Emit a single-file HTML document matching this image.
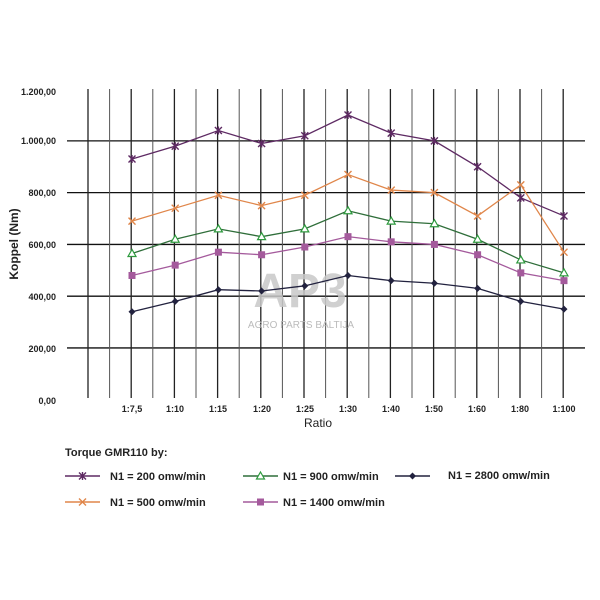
<!DOCTYPE html>
<html><head><meta charset="utf-8"><style>
html,body{margin:0;padding:0;background:#fff;}
svg{display:block;font-family:"Liberation Sans",Arial,sans-serif;}
</style></head><body>
<svg id="s" width="600" height="600" viewBox="0 0 600 600" xmlns="http://www.w3.org/2000/svg">
<rect width="600" height="600" fill="#fff"/>
<g id="grid"></g>
<text x="300" y="307" font-size="48" font-weight="bold" fill="#c8c8c8" text-anchor="middle" opacity="0.85">AP3</text>
<text x="301" y="328" font-size="10" fill="#bbb" text-anchor="middle">AGRO PARTS BALTIJA</text>
<g id="series"></g>
<g font-size="9" font-weight="bold" fill="#222" text-anchor="end">
<text x="56" y="95">1.200,00</text>
<text x="56" y="144">1.000,00</text>
<text x="56" y="196">800,00</text>
<text x="56" y="248">600,00</text>
<text x="56" y="300">400,00</text>
<text x="56" y="352">200,00</text>
<text x="56" y="404">0,00</text>
</g>
<g font-size="9" font-weight="bold" fill="#222" text-anchor="middle">
<text x="132" y="412">1:7,5</text><text x="175" y="412">1:10</text><text x="218" y="412">1:15</text>
<text x="262" y="412">1:20</text><text x="305" y="412">1:25</text><text x="348" y="412">1:30</text>
<text x="391" y="412">1:40</text><text x="434" y="412">1:50</text><text x="477" y="412">1:60</text>
<text x="520" y="412">1:80</text><text x="564" y="412">1:100</text>
</g>
<text x="318" y="427" font-size="12" fill="#222" text-anchor="middle">Ratio</text>
<text transform="translate(18,244) rotate(-90)" font-size="12" font-weight="bold" fill="#222" text-anchor="middle">Koppel (Nm)</text>
<g font-size="11" font-weight="bold" fill="#222">
<text x="65" y="456">Torque GMR110 by:</text>
<text x="110" y="480">N1 = 200 omw/min</text>
<text x="283" y="480">N1 = 900 omw/min</text>
<text x="448" y="479">N1 = 2800 omw/min</text>
<text x="110" y="506">N1 = 500 omw/min</text>
<text x="283" y="506">N1 = 1400 omw/min</text>
</g>
<g id="legend"></g>
</svg>
<script>
var NS="http://www.w3.org/2000/svg";
function el(p,t,a){var e=document.createElementNS(NS,t);for(var k in a)e.setAttribute(k,a[k]);p.appendChild(e);return e;}
var g=document.getElementById('grid');
for(var v=200;v<=1000;v+=200){var y=399.7-v*0.2588;el(g,'line',{x1:67,x2:585,y1:y,y2:y,stroke:'#111','stroke-width':1.3});}
for(var i=0;i<23;i++){var x=88+21.6*i;el(g,'line',{x1:x,x2:x,y1:89,y2:398,stroke:(i%2==0?'#222':'#555'),'stroke-width':(i%2==0?1.3:1)});}
var S=[
{c:'#5e2a63',m:'star',d:[930,980,1040,990,1020,1100,1030,1000,900,780,710]},
{c:'#e0864a',m:'x',d:[690,740,790,750,790,870,810,800,710,830,570]},
{c:'#2f6e3a',m:'tri',d:[565,620,660,630,660,730,690,680,620,540,490]},
{c:'#a45a9c',m:'sq',d:[480,520,570,560,590,630,610,600,560,490,460]},
{c:'#22223f',m:'dia',d:[340,380,425,420,440,480,460,450,430,380,350]}];
function mk(p,m,x,y,c){
 if(m=='star'||m=='x'){el(p,'path',{d:'M'+(x-3.5)+' '+(y-3.5)+'L'+(x+3.5)+' '+(y+3.5)+'M'+(x-3.5)+' '+(y+3.5)+'L'+(x+3.5)+' '+(y-3.5)+(m=='star'?'M'+x+' '+(y-4)+'L'+x+' '+(y+4):''),stroke:c,'stroke-width':1.4,fill:'none'});}
 else if(m=='tri'){el(p,'path',{d:'M'+x+' '+(y-4)+'L'+(x+4)+' '+(y+3)+'L'+(x-4)+' '+(y+3)+'Z',stroke:'#2e9a3e','stroke-width':1.2,fill:'#fff'});}
 else if(m=='sq'){el(p,'rect',{x:x-3.5,y:y-3.5,width:7,height:7,fill:c});}
 else {el(p,'path',{d:'M'+x+' '+(y-3.5)+'L'+(x+3.5)+' '+y+'L'+x+' '+(y+3.5)+'L'+(x-3.5)+' '+y+'Z',fill:c});}
}
var sg=document.getElementById('series');
S.forEach(function(s){var pts=s.d.map(function(v,i){return [132+43.2*i,399.7-v*0.2588];});
 el(sg,'polyline',{points:pts.map(function(p){return p.join(',')}).join(' '),fill:'none',stroke:s.c,'stroke-width':1.3});
 pts.forEach(function(p){mk(sg,s.m,p[0],p[1],s.c);});});
var lg=document.getElementById('legend');
var L=[[0,65,476],[2,243,476],[4,395,476],[1,65,502],[3,243,502]];
L.forEach(function(l){var s=S[l[0]];el(lg,'line',{x1:l[1],x2:l[1]+35,y1:l[2],y2:l[2],stroke:s.c,'stroke-width':1.5});mk(lg,s.m,l[1]+17.5,l[2],s.c);});
</script>
</body></html>
